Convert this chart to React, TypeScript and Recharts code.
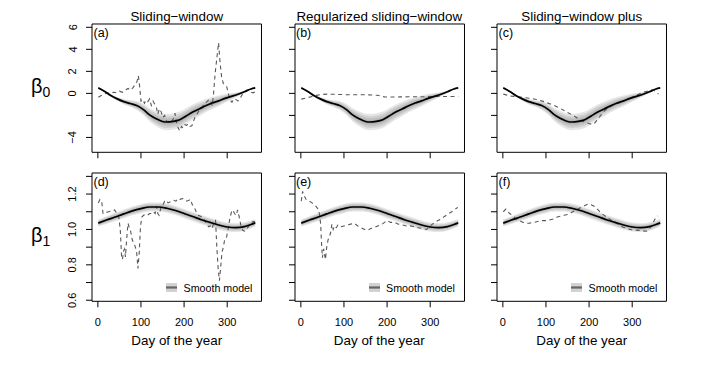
import React from 'react';
import { ComposedChart, Line, Area, XAxis, YAxis, ReferenceArea, Legend } from 'recharts';

// smooth model, intercept (same in all three top panels)
const beta0Days = [1, 15, 30, 45, 60, 75, 90, 105, 120, 135, 150, 160, 175, 190, 205, 220, 235, 250, 265, 280, 295, 310, 325, 340, 355, 365];
const beta0Smooth = [0.5, 0.2, -0.2, -0.5, -0.75, -0.92, -1.1, -1.45, -1.95, -2.3, -2.55, -2.6, -2.55, -2.4, -2.05, -1.7, -1.42, -1.12, -0.88, -0.68, -0.45, -0.27, -0.08, 0.15, 0.4, 0.5];
const beta0Spread = [0.05, 0.08, 0.12, 0.18, 0.25, 0.3, 0.4, 0.5, 0.6, 0.68, 0.72, 0.74, 0.75, 0.75, 0.72, 0.7, 0.65, 0.6, 0.55, 0.48, 0.4, 0.3, 0.2, 0.12, 0.08, 0.05];

// smooth model, slope (same in all three bottom panels)
const beta1Days = [1, 20, 40, 60, 80, 100, 120, 140, 160, 180, 200, 220, 240, 260, 280, 300, 320, 340, 355, 365];
const beta1Smooth = [1.036, 1.053, 1.07, 1.088, 1.105, 1.118, 1.127, 1.127, 1.12, 1.107, 1.09, 1.073, 1.055, 1.04, 1.025, 1.014, 1.01, 1.016, 1.028, 1.037];
const beta1Spread = [0.02, 0.022, 0.024, 0.025, 0.025, 0.026, 0.026, 0.026, 0.026, 0.026, 0.026, 0.026, 0.026, 0.026, 0.026, 0.025, 0.025, 0.024, 0.022, 0.02];

// (a) sliding-window, beta0
const daysA = [1, 8, 15, 22, 30, 37, 43, 50, 57, 64, 70, 76, 82, 87, 91, 94, 97, 100, 104, 108, 112, 116, 120, 124, 128, 132, 136, 139, 143, 147, 151, 155, 159, 163, 167, 171, 175, 179, 182, 186, 190, 194, 198, 202, 206, 210, 214, 218, 222, 226, 230, 234, 238, 243, 248, 253, 258, 262, 265, 268, 272, 276, 280, 283, 287, 291, 295, 299, 303, 307, 311, 315, 320, 325, 330, 335, 340, 345, 350, 355, 360, 365];
const valuesA = [-0.35, -0.2, -0.05, 0.0, 0.05, 0.1, 0.05, 0.2, 0.1, 0.3, 0.45, 0.3, 0.55, 0.85, 1.1, 1.6, 0.6, -0.7, -0.55, -0.9, -0.6, -0.75, -0.5, -1.1, -0.7, -1.0, -1.3, -1.9, -1.4, -1.7, -2.2, -2.0, -2.5, -2.6, -2.45, -2.55, -2.3, -1.8, -2.6, -3.1, -3.4, -3.0, -3.15, -2.85, -2.9, -2.75, -3.0, -2.95, -2.5, -2.1, -1.9, -1.6, -1.45, -1.2, -0.9, -0.75, -0.55, -0.7, -1.1, -0.2, 1.8, 3.2, 4.6, 3.0, 1.5, 0.9, 0.7, 0.6, -0.1, -0.6, -0.8, -0.5, -0.55, -0.7, -0.45, -0.1, 0.15, 0.25, 0.3, 0.1, 0.05, 0.15];

// (b) regularized sliding-window, beta0
const daysB = [1, 12, 24, 36, 48, 60, 75, 90, 105, 120, 135, 150, 165, 178, 186, 194, 210, 230, 250, 270, 290, 310, 330, 350, 365];
const valuesB = [-0.52, -0.42, -0.3, -0.18, -0.1, -0.07, -0.08, -0.1, -0.12, -0.12, -0.13, -0.13, -0.15, -0.17, -0.25, -0.32, -0.33, -0.32, -0.31, -0.3, -0.3, -0.29, -0.28, -0.28, -0.28];

// (c) sliding-window plus, beta0
const daysC = [1, 20, 47, 65, 78, 95, 113, 130, 148, 165, 179, 193, 206, 212, 218, 227, 237, 250, 263, 276, 290, 305, 322, 335, 345, 352, 361];
const valuesC = [-0.07, -0.25, -0.37, -0.45, -0.55, -0.75, -1.0, -1.3, -1.69, -2.05, -2.39, -2.65, -2.82, -2.75, -2.45, -2.0, -1.53, -1.2, -0.95, -0.77, -0.5, -0.25, 0.06, 0.2, 0.3, 0.25, -0.07];

// (d) sliding-window, beta1
const daysD = [1, 5, 9, 12, 18, 25, 32, 39, 44, 48, 52, 55, 57, 60, 62, 64, 67, 70, 73, 76, 80, 84, 87, 90, 93, 96, 99, 102, 106, 110, 115, 120, 125, 129, 133, 136, 139, 142, 146, 151, 155, 158, 163, 167, 171, 176, 181, 186, 191, 196, 201, 206, 211, 215, 219, 223, 228, 233, 238, 243, 248, 253, 257, 261, 265, 269, 273, 276, 279, 282, 285, 288, 291, 294, 298, 302, 306, 310, 313, 317, 321, 324, 328, 332, 336, 340, 345, 350, 355, 360, 365];
const valuesD = [1.15, 1.17, 1.16, 1.09, 1.095, 1.1, 1.105, 1.11, 1.09, 1.08, 1.0, 0.85, 0.83, 0.88, 0.89, 0.845, 0.95, 1.035, 1.01, 0.99, 0.94, 0.92, 0.9, 0.87, 0.78, 0.87, 1.02, 1.07, 1.08, 1.085, 1.08, 1.09, 1.09, 1.1, 1.09, 1.13, 1.09, 1.08, 1.12, 1.14, 1.16, 1.165, 1.15, 1.155, 1.16, 1.165, 1.16, 1.175, 1.17, 1.175, 1.17, 1.16, 1.165, 1.17, 1.14, 1.13, 1.1, 1.08, 1.075, 1.07, 1.05, 1.03, 1.015, 1.02, 1.005, 1.04, 1.05, 0.9, 0.78, 0.71, 0.79, 0.87, 0.9, 0.94, 0.95, 1.0, 1.06, 1.1, 1.11, 1.09, 1.08, 1.11, 1.07, 1.02, 0.995, 0.99, 1.0, 1.02, 1.03, 1.045, 1.04];

// (e) regularized sliding-window, beta1
const daysE = [1, 4, 8, 12, 16, 20, 26, 32, 36, 40, 43, 46, 48, 50, 53, 55, 57, 60, 63, 66, 69, 72, 75, 78, 82, 86, 92, 100, 108, 116, 124, 132, 140, 148, 155, 162, 170, 178, 186, 194, 200, 208, 217, 226, 236, 245, 254, 263, 272, 282, 292, 300, 310, 318, 326, 334, 342, 350, 358, 364];
const valuesE = [1.16, 1.215, 1.19, 1.17, 1.165, 1.16, 1.15, 1.14, 1.128, 1.115, 1.09, 1.03, 0.92, 0.84, 0.89, 0.86, 0.83, 0.9, 0.94, 0.96, 0.98, 1.03, 1.0, 1.02, 1.01, 1.025, 1.015, 1.02, 1.025, 1.03, 1.035, 1.02, 1.01, 1.0, 0.995, 1.005, 1.01, 1.02, 1.025, 1.04, 1.05, 1.04, 1.04, 1.03, 1.025, 1.02, 1.02, 1.015, 1.01, 1.005, 1.0, 1.02, 1.04, 1.05, 1.06, 1.075, 1.088, 1.1, 1.115, 1.125];

// (f) sliding-window plus, beta1
const daysF = [1, 7, 12, 16, 24, 31, 39, 47, 55, 62, 72, 81, 91, 101, 110, 118, 126, 134, 142, 150, 158, 166, 174, 182, 190, 197, 205, 213, 221, 228, 236, 244, 253, 263, 271, 279, 288, 298, 308, 317, 325, 333, 339, 344, 348, 352, 356, 360];
const valuesF = [1.1, 1.115, 1.1, 1.09, 1.075, 1.06, 1.05, 1.04, 1.035, 1.036, 1.04, 1.045, 1.05, 1.05, 1.055, 1.06, 1.07, 1.075, 1.08, 1.085, 1.095, 1.105, 1.115, 1.126, 1.135, 1.143, 1.14, 1.13, 1.11, 1.092, 1.078, 1.064, 1.05, 1.036, 1.024, 1.013, 1.005, 0.998, 0.996, 0.995, 0.992, 0.99, 1.0, 1.017, 1.035, 1.055, 1.07, 1.077];

const methodTitles = ['Sliding−window', 'Regularized sliding−window', 'Sliding−window plus'];
const panelTags = ['(a)', '(b)', '(c)', '(d)', '(e)', '(f)'];
const dayTicks = [0, 100, 200, 300];
const beta0Ticks = [-4, -2, 0, 2, 4, 6];
const beta0Labelled = [-4, 0, 2, 4, 6];
const beta1Ticks = [0.6, 0.7, 0.8, 0.9, 1.0, 1.1, 1.2, 1.3];
const beta1Labelled = [0.6, 0.8, 1.0, 1.2];

const FONT = '"Liberation Sans", Arial, Helvetica, sans-serif';
const COL_X = [92, 294.5, 497];
const ROW_Y = [24, 173.3];
const BOX_W = 169.5;
const BOX_H = 128.3;
const YW = 60;
const MT = 5;
const MR = 6;
const XH = 45;
const X_DOMAIN: [number, number] = [-13.56, 379.56];
const Y_DOMAINS: [number, number][] = [[-5.35, 6.3], [0.594, 1.319]];
const BAND_LEVELS = [1, 0.72, 0.46, 0.22];

const toRows = (days: number[], vals: number[]) => days.map((d, i) => ({ day: d, v: vals[i] }));
const bandRows = (days: number[], vals: number[], spread: number[]) =>
  days.map((d, i) => ({ day: d, v: vals[i], w: spread[i] }));

const smoothRows = [bandRows(beta0Days, beta0Smooth, beta0Spread), bandRows(beta1Days, beta1Smooth, beta1Spread)];
const dashRows = [
  toRows(daysA, valuesA), toRows(daysB, valuesB), toRows(daysC, valuesC),
  toRows(daysD, valuesD), toRows(daysE, valuesE), toRows(daysF, valuesF),
];

const fmtY = (v: number, row: number) => (row === 0 ? String(v).replace('-', '−') : v.toFixed(1));

const SmoothLegend = () => (
  <div style={{ display: 'flex', alignItems: 'center', fontFamily: FONT, fontSize: 10.7, whiteSpace: 'nowrap', color: '#000' }}>
    <svg width={11} height={9} style={{ display: 'block' }}>
      <rect x={0} y={0} width={11} height={9} fill="#d2d2d2" />
      <rect x={0} y={3.4} width={11} height={2.2} fill="#666" />
    </svg>
    <span style={{ marginLeft: 6.5 }}>Smooth model</span>
  </div>
);

function Panel({ idx }: { idx: number }) {
  const col = idx % 3;
  const row = Math.floor(idx / 3);
  const yDomain = Y_DOMAINS[row];
  const yTicks = row === 0 ? beta0Ticks : beta1Ticks;
  const yLabelled = row === 0 ? beta0Labelled : beta1Labelled;
  const smooth = smoothRows[row];

  const xTick = (props: any) => {
    if (row === 0) return <g />;
    return (
      <text x={props.x} y={props.y + 19} textAnchor="middle" fontFamily={FONT} fontSize={11} fill="#000">
        {props.payload.value}
      </text>
    );
  };
  const yTick = (props: any) => {
    const v = props.payload.value;
    if (col !== 0 || !yLabelled.some((t) => Math.abs(t - v) < 1e-9)) return <g />;
    const bx = props.x - 9.5;
    return (
      <text x={bx} y={props.y} transform={`rotate(-90 ${bx} ${props.y})`} textAnchor="middle" fontFamily={FONT} fontSize={11} fill="#000">
        {fmtY(v, row)}
      </text>
    );
  };

  return (
    <div style={{ position: 'absolute', left: COL_X[col] - YW, top: ROW_Y[row] - MT }}>
      <ComposedChart width={YW + BOX_W + MR} height={MT + BOX_H + XH} margin={{ top: MT, right: MR, bottom: 0, left: 0 }}>
        <XAxis
          type="number"
          dataKey="day"
          domain={X_DOMAIN}
          ticks={dayTicks}
          allowDataOverflow
          axisLine={false}
          tickLine={{ stroke: '#000' }}
          tickSize={6}
          tickMargin={0}
          height={XH}
          tick={xTick}
          interval={0}
        />
        <YAxis
          type="number"
          domain={yDomain}
          ticks={yTicks}
          allowDataOverflow
          axisLine={false}
          tickLine={{ stroke: '#000' }}
          tickSize={6}
          tickMargin={0}
          width={YW}
          tick={yTick}
          interval={0}
        />
        {BAND_LEVELS.map((f) => (
          <Area
            key={f}
            data={smooth}
            dataKey={(r: any) => [r.v - r.w * f, r.v + r.w * f]}
            type="monotone"
            stroke="none"
            fill="#5a5a5a"
            fillOpacity={0.15}
            legendType="none"
            isAnimationActive={false}
            activeDot={false}
          />
        ))}
        <Line
          data={dashRows[idx]}
          dataKey="v"
          type="linear"
          stroke="#585858"
          strokeWidth={1.1}
          strokeDasharray="4 3.5"
          dot={false}
          legendType="none"
          isAnimationActive={false}
        />
        <Line
          data={smooth}
          dataKey="v"
          name="Smooth model"
          type="monotone"
          stroke="#000"
          strokeWidth={1.7}
          dot={false}
          isAnimationActive={false}
        />
        <ReferenceArea x1={X_DOMAIN[0]} x2={X_DOMAIN[1]} y1={yDomain[0]} y2={yDomain[1]} fill="none" stroke="#000" strokeWidth={1} fillOpacity={0} />
        {row === 1 && (
          <Legend
            layout="vertical"
            align="center"
            verticalAlign="middle"
            content={() => <SmoothLegend />}
            wrapperStyle={{ left: YW + 74, top: MT + 108.5, width: 100, height: 13 }}
          />
        )}
      </ComposedChart>
    </div>
  );
}

export default function App() {
  const centers = COL_X.map((x) => x + BOX_W / 2);
  return (
    <div style={{ position: 'absolute', left: 0, top: 0, width: 720, height: 388, background: '#fff', overflow: 'hidden' }}>
      {[0, 1, 2, 3, 4, 5].map((i) => (
        <Panel key={i} idx={i} />
      ))}
      <svg width={720} height={388} style={{ position: 'absolute', left: 0, top: 0, pointerEvents: 'none' }} fontFamily={FONT}>
        {methodTitles.map((t, i) => (
          <text key={t} x={centers[i]} y={20.5} textAnchor="middle" fontSize={13.4} fill="#000">
            {t}
          </text>
        ))}
        {centers.map((c, i) => (
          <text key={'xl' + i} x={c} y={344.5} textAnchor="middle" fontSize={13.4} fill="#000">
            Day of the year
          </text>
        ))}
        {panelTags.map((t, i) => (
          <text key={t} x={COL_X[i % 3] + 1.5} y={ROW_Y[Math.floor(i / 3)] + 13} fontSize={12.5} fill="#000">
            {t}
          </text>
        ))}
        <text x={31} y={92.5} fontSize={20} fill="#000">
          β<tspan dy={4} fontSize={14}>0</tspan>
        </text>
        <text x={31} y={241.8} fontSize={20} fill="#000">
          β<tspan dy={4} fontSize={14}>1</tspan>
        </text>
      </svg>
    </div>
  );
}
